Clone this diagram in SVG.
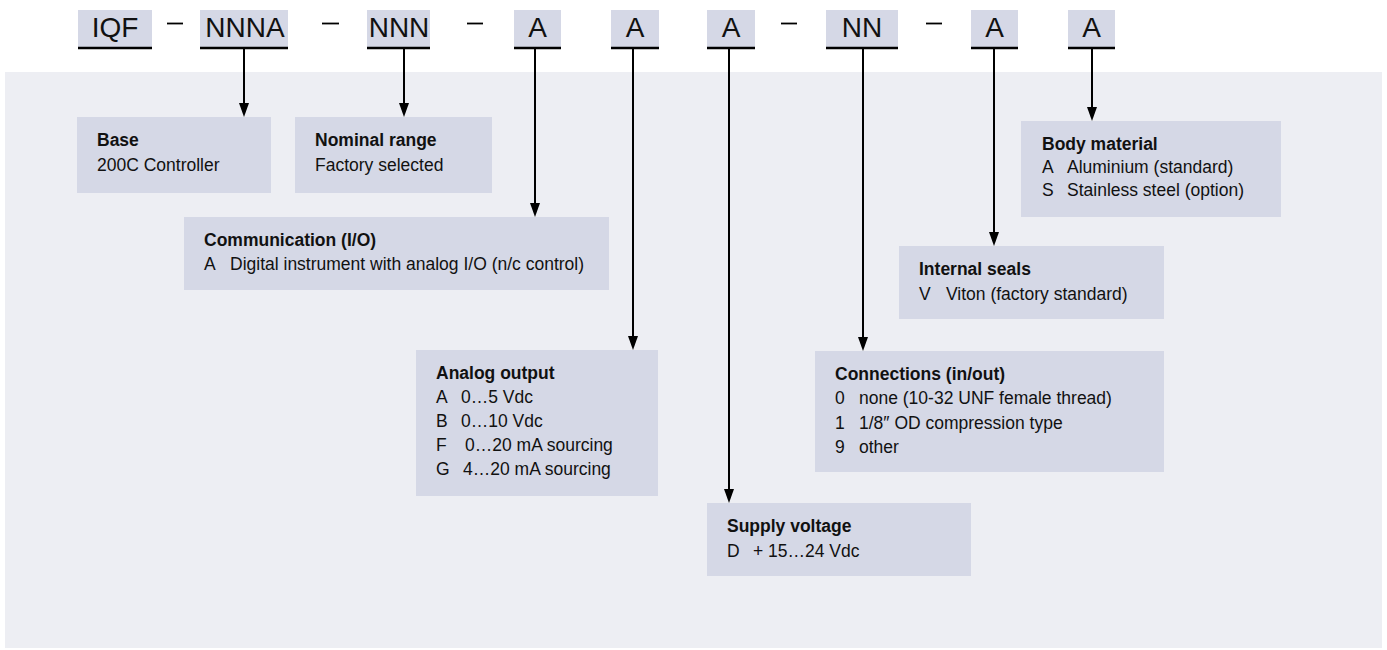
<svg xmlns="http://www.w3.org/2000/svg" width="1387" height="650" viewBox="0 0 1387 650">
<style>
.panel{fill:#EDEEF3}
.box{fill:#D5D8E6}
.code{font-family:"Liberation Sans",Arial,sans-serif;font-size:28px;fill:#111;text-anchor:middle}
.ul{stroke:#000;stroke-width:2.5}
.dash{stroke:#000;stroke-width:1.8}
.t{font-family:"Liberation Sans",Arial,sans-serif;font-size:17.5px;font-weight:bold;fill:#111}
.b{font-family:"Liberation Sans",Arial,sans-serif;font-size:17.5px;fill:#111}
.con{stroke:#000;stroke-width:2;fill:none;marker-end:url(#ah)}
</style>
<defs>
<marker id="ah" viewBox="0 0 14 10" refX="2" refY="5" markerWidth="14" markerHeight="10" markerUnits="userSpaceOnUse" orient="auto">
<path d="M0,0 L14,5 L0,10 z" fill="#000"/>
</marker>
</defs>
<rect class="panel" x="5" y="72" width="1377" height="576"/>
<g id="code">
<rect class="box" x="78" y="10" width="74" height="37"/><line class="ul" x1="78" y1="48" x2="152" y2="48"/><text class="code" x="115" y="37">IQF</text>
<line class="dash" x1="167" y1="23.5" x2="183" y2="23.5"/>
<rect class="box" x="200" y="10" width="88" height="37"/><line class="ul" x1="200" y1="48" x2="288" y2="48"/><text class="code" x="245" y="37">NNNA</text>
<line class="dash" x1="322" y1="23.5" x2="339" y2="23.5"/>
<rect class="box" x="367" y="10" width="63" height="37"/><line class="ul" x1="367" y1="48" x2="430" y2="48"/><text class="code" x="399" y="37">NNN</text>
<line class="dash" x1="467" y1="23.5" x2="483" y2="23.5"/>
<rect class="box" x="514" y="10" width="47" height="37"/><line class="ul" x1="514" y1="48" x2="561" y2="48"/><text class="code" x="537.5" y="37">A</text>
<rect class="box" x="611" y="10" width="48" height="37"/><line class="ul" x1="611" y1="48" x2="659" y2="48"/><text class="code" x="635" y="37">A</text>
<rect class="box" x="707" y="10" width="48" height="37"/><line class="ul" x1="707" y1="48" x2="755" y2="48"/><text class="code" x="731" y="37">A</text>
<line class="dash" x1="781" y1="23.5" x2="797" y2="23.5"/>
<rect class="box" x="826" y="10" width="72" height="37"/><line class="ul" x1="826" y1="48" x2="898" y2="48"/><text class="code" x="862" y="37">NN</text>
<line class="dash" x1="926" y1="23.5" x2="942" y2="23.5"/>
<rect class="box" x="971" y="10" width="47" height="37"/><line class="ul" x1="971" y1="48" x2="1018" y2="48"/><text class="code" x="994.5" y="37">A</text>
<rect class="box" x="1068" y="10" width="47" height="37"/><line class="ul" x1="1068" y1="48" x2="1115" y2="48"/><text class="code" x="1091.5" y="37">A</text>
</g>
<g id="connectors">
<line class="con" x1="244" y1="49" x2="244" y2="105"/>
<line class="con" x1="404" y1="49" x2="404" y2="105"/>
<line class="con" x1="535" y1="49" x2="535" y2="205"/>
<line class="con" x1="633" y1="49" x2="633" y2="338"/>
<line class="con" x1="729" y1="49" x2="729" y2="491"/>
<line class="con" x1="863" y1="49" x2="863" y2="339"/>
<line class="con" x1="994" y1="49" x2="994" y2="234"/>
<line class="con" x1="1092" y1="49" x2="1092" y2="109"/>
</g>
<g id="base">
<rect class="box" x="77" y="117" width="194" height="76"/>
<text class="t" x="97" y="146">Base</text>
<text class="b" x="97" y="171">200C  Controller</text>
</g>
<g id="nominal">
<rect class="box" x="295" y="117" width="197" height="76"/>
<text class="t" x="315" y="146">Nominal range</text>
<text class="b" x="315" y="171">Factory selected</text>
</g>
<g id="communication">
<rect class="box" x="184" y="217" width="425" height="73"/>
<text class="t" x="204" y="246">Communication (I/O)</text>
<text class="b" x="204" y="270">A</text><text class="b" x="230" y="270">Digital instrument with analog I/O (n/c control)</text>
</g>
<g id="analog">
<rect class="box" x="416" y="350" width="242" height="146"/>
<text class="t" x="436" y="379">Analog output</text>
<text class="b" x="436" y="403">A</text><text class="b" x="461" y="403">0…5 Vdc</text>
<text class="b" x="436" y="427">B</text><text class="b" x="461" y="427">0…10 Vdc</text>
<text class="b" x="436" y="451">F</text><text class="b" x="465" y="451">0…20 mA sourcing</text>
<text class="b" x="436" y="475">G</text><text class="b" x="463" y="475">4…20 mA sourcing</text>
</g>
<g id="supply">
<rect class="box" x="707" y="503" width="264" height="73"/>
<text class="t" x="727" y="532">Supply voltage</text>
<text class="b" x="727" y="557">D</text><text class="b" x="753" y="557">+ 15…24 Vdc</text>
</g>
<g id="connections">
<rect class="box" x="815" y="351" width="349" height="121"/>
<text class="t" x="835" y="380">Connections (in/out)</text>
<text class="b" x="835" y="404">0</text><text class="b" x="859" y="404">none (10-32 UNF female thread)</text>
<text class="b" x="835" y="429">1</text><text class="b" x="859" y="429">1/8″ OD compression type</text>
<text class="b" x="835" y="453">9</text><text class="b" x="859" y="453">other</text>
</g>
<g id="seals">
<rect class="box" x="899" y="246" width="265" height="73"/>
<text class="t" x="919" y="275">Internal seals</text>
<text class="b" x="919" y="300">V</text><text class="b" x="946" y="300">Viton (factory standard)</text>
</g>
<g id="body">
<rect class="box" x="1021" y="121" width="260" height="96"/>
<text class="t" x="1042" y="150">Body material</text>
<text class="b" x="1042" y="173">A</text><text class="b" x="1067" y="173">Aluminium (standard)</text>
<text class="b" x="1042" y="196">S</text><text class="b" x="1067" y="196">Stainless steel (option)</text>
</g>
</svg>
